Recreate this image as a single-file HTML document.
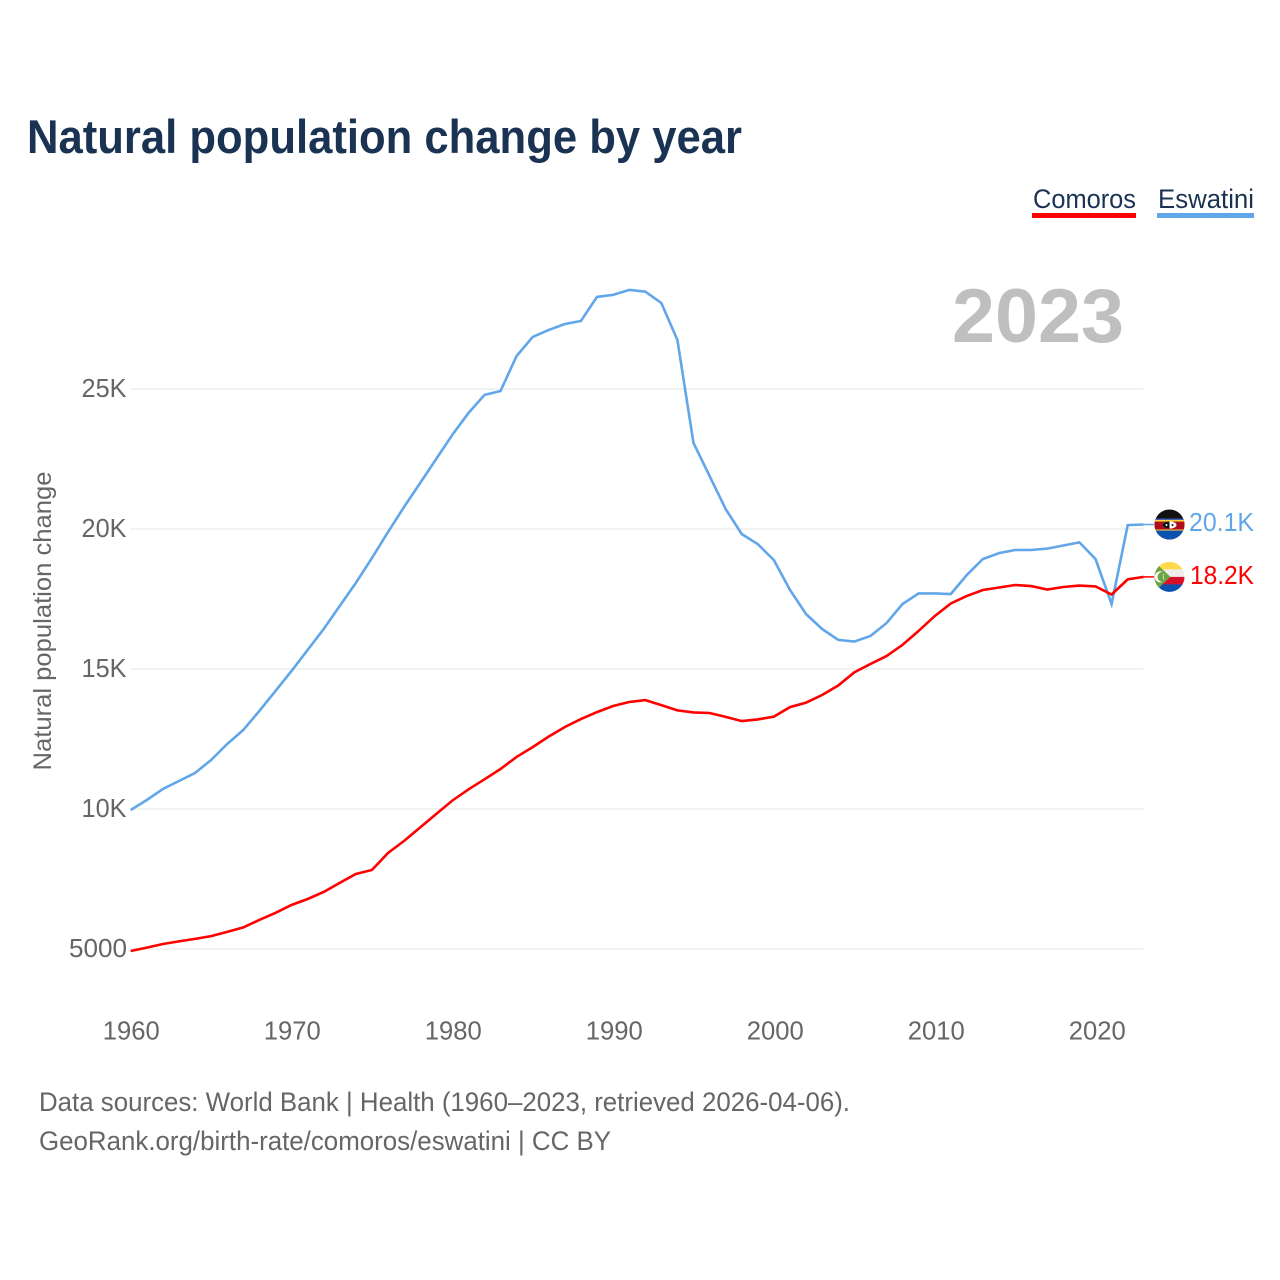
<!DOCTYPE html>
<html lang="en">
<head>
<meta charset="utf-8">
<title>Natural population change by year</title>
<style>
html,body{margin:0;padding:0;background:#fff;}
svg{display:block;font-family:"Liberation Sans",sans-serif;}
</style>
</head>
<body>
<svg id="chart" xmlns="http://www.w3.org/2000/svg" width="1280" height="1280" viewBox="0 0 1280 1280">
  <defs>
    <clipPath id="flag-clip-a"><circle cx="0" cy="0" r="15"/></clipPath>
  </defs>
  <rect x="0" y="0" width="1280" height="1280" fill="#fff"/>
  <text x="27" y="153" font-size="47" font-weight="700" fill="#1a3353" textLength="715" lengthAdjust="spacingAndGlyphs">Natural population change by year</text>

  <g>
    <text x="1033" y="208" font-size="27" fill="#1a3353" textLength="103" lengthAdjust="spacingAndGlyphs">Comoros</text>
    <rect x="1032" y="213" width="104" height="5" fill="#ff0000"/>
  </g>
  <g>
    <text x="1158" y="208" font-size="27" fill="#1a3353" textLength="96" lengthAdjust="spacingAndGlyphs">Eswatini</text>
    <rect x="1157" y="213" width="97" height="5" fill="#62a6ea"/>
  </g>

  <text x="952" y="342" font-size="76" font-weight="700" fill="#bfbfbf" textLength="172" lengthAdjust="spacingAndGlyphs">2023</text>

  <text transform="translate(51,621) rotate(-90)" text-anchor="middle" font-size="25" fill="#666" textLength="299" lengthAdjust="spacingAndGlyphs">Natural population change</text>

  <g id="grid"></g>
  <g id="yticks"></g>
  <g id="xticks"></g>
  <g id="series"></g>

  <g id="flag-eswatini">
    <g clip-path="url(#flag-clip-a)">
      <rect x="-15" y="-15" width="30" height="30" fill="#111"/>
      <rect x="-15" y="-6" width="30" height="3" fill="#3f5fb0"/>
      <rect x="-15" y="-4.5" width="30" height="2" fill="#ffd83d"/>
      <rect x="-15" y="-3" width="30" height="9" fill="#b10c1c"/>
      <rect x="-15" y="5" width="30" height="2.5" fill="#ffd83d"/>
      <rect x="-15" y="6" width="30" height="9" fill="#0b52b0"/>
      <ellipse cx="0" cy="0.5" rx="7" ry="3.6" fill="#fff"/>
      <path d="M-7 .5 A7 3.6 0 0 1 0 -3.1 V4.1 A7 3.6 0 0 1 -7 .5Z" fill="#111"/>
      <circle cx="-3" cy="0.5" r="1" fill="#fff"/>
      <circle cx="3" cy="0.5" r="1" fill="#111"/>
    </g>
  </g>
  <g id="flag-comoros">
    <g clip-path="url(#flag-clip-a)">
      <rect x="-15" y="-15" width="30" height="8" fill="#ffd94a"/>
      <rect x="-15" y="-7.5" width="30" height="8" fill="#eeeeee"/>
      <rect x="-15" y="0" width="30" height="8" fill="#d8102c"/>
      <rect x="-15" y="7.5" width="30" height="8" fill="#0b52b0"/>
      <path d="M-15 -15 L1 0 L-15 15Z" fill="#6da544"/>
      <path d="M-7 -5 A5.5 5.5 0 1 0 -7 5 A4.5 4.5 0 1 1 -7 -5Z" fill="#fff"/>
      <circle cx="-6" cy="-2" r=".6" fill="#fff"/><circle cx="-6" cy="0" r=".6" fill="#fff"/><circle cx="-6" cy="2" r=".6" fill="#fff"/>
    </g>
  </g>
  <text id="value-eswatini" x="1189" y="531" font-size="26" fill="#62a6ea" textLength="65" lengthAdjust="spacingAndGlyphs">20.1K</text>
  <text id="value-comoros" x="1190" y="584" font-size="26" fill="#ff0000" textLength="64" lengthAdjust="spacingAndGlyphs">18.2K</text>

  <text x="39" y="1111" font-size="27" fill="#666" textLength="811" lengthAdjust="spacingAndGlyphs">Data sources: World Bank | Health (1960–2023, retrieved 2026-04-06).</text>
  <a>
    <text x="39" y="1150" font-size="27" fill="#666" textLength="572" lengthAdjust="spacingAndGlyphs">GeoRank.org/birth-rate/comoros/eswatini | CC BY</text>
  </a>
</svg>
<script>
const startYear = 1960;
const eswatiniValues = [9964,10320,10714,11000,11286,11750,12320,12820,13500,14210,14930,15680,16430,17250,18070,18960,19890,20790,21640,22500,23360,24140,24790,24930,26180,26860,27110,27320,27430,28290,28360,28540,28480,28070,26750,23070,21890,20710,19820,19460,18890,17820,16960,16430,16040,15980,16180,16640,17320,17700,17700,17680,18360,18930,19140,19250,19250,19300,19410,19520,18930,17320,20140,20160];
const comorosValues = [4930,5050,5180,5270,5360,5460,5610,5770,6040,6290,6570,6786,7036,7360,7680,7820,8430,8860,9340,9820,10300,10700,11060,11430,11860,12210,12590,12930,13210,13460,13680,13820,13890,13710,13520,13450,13430,13290,13140,13200,13300,13640,13800,14070,14410,14880,15180,15460,15860,16360,16890,17340,17610,17820,17910,18000,17960,17840,17930,17980,17950,17660,18200,18290];
const yTickValues = [5000,10000,15000,20000,25000];
const yTickLabels = ["5000","10K","15K","20K","25K"];
const xTickYears = [1960,1970,1980,1990,2000,2010,2020];

const NS = "http://www.w3.org/2000/svg";
function xScale(year){ return 130.7 + (year - 1960) * 16.08; }
function xLabelScale(year){ return 131.3 + (year - 1960) * 16.1; }
function yScale(value){ return 949 - (value - 5000) * 0.028; }
function make(tag, parent){ const el = document.createElementNS(NS, tag); parent.appendChild(el); return el; }

const gridGroup = document.getElementById("grid");
const yGroup = document.getElementById("yticks");
const xGroup = document.getElementById("xticks");
const seriesGroup = document.getElementById("series");
const lastYear = startYear + eswatiniValues.length - 1;

yTickValues.forEach(function(v, i){
  const line = make("line", gridGroup);
  
  
  line.setAttribute("x1", xScale(1960));
  line.setAttribute("x2", xScale(lastYear));
  line.setAttribute("y1", yScale(v));
  line.setAttribute("y2", yScale(v));
  line.setAttribute("stroke", "#ededed");
  line.setAttribute("stroke-width", "1.5");
  const label = yTickLabels[i];
  const t = make("text", yGroup);
  
  
  t.setAttribute("x", label.length === 4 ? 69 : 81.5);
  t.setAttribute("y", yScale(v) + 8);
  t.setAttribute("font-size", "26");
  t.setAttribute("fill", "#666");
  t.setAttribute("textLength", label.length === 4 ? 58 : 45);
  t.setAttribute("lengthAdjust", "spacingAndGlyphs");
  t.textContent = label;
});

xTickYears.forEach(function(year){
  const t = make("text", xGroup);
  
  
  t.setAttribute("x", xLabelScale(year));
  t.setAttribute("y", 1039.5);
  t.setAttribute("text-anchor", "middle");
  t.setAttribute("font-size", "26");
  t.setAttribute("fill", "#666");
  t.setAttribute("textLength", 57);
  t.setAttribute("lengthAdjust", "spacingAndGlyphs");
  t.textContent = String(year);
});

function drawSeries(values, color, name){
  const d = values.map(function(v, i){
    return (i ? "L" : "M") + xScale(startYear + i).toFixed(1) + " " + yScale(v).toFixed(1);
  }).join(" ");
  const endX = xScale(lastYear).toFixed(1);
  const endY = yScale(values[values.length - 1]).toFixed(1);
  const c = make("line", seriesGroup);
  
  
  c.setAttribute("x1", endX);
  c.setAttribute("x2", 1154);
  c.setAttribute("y1", endY);
  c.setAttribute("y2", endY);
  c.setAttribute("stroke", color);
  c.setAttribute("stroke-width", "1.5");
  const p = make("path", seriesGroup);
  
  
  p.setAttribute("d", d);
  p.setAttribute("fill", "none");
  p.setAttribute("stroke", color);
  p.setAttribute("stroke-width", "2.6");
  p.setAttribute("stroke-linejoin", "miter");
  p.setAttribute("stroke-miterlimit", "10");
}
drawSeries(eswatiniValues, "#62a6ea", "line-eswatini");
drawSeries(comorosValues, "#ff0000", "line-comoros");

document.getElementById("flag-eswatini").setAttribute("transform", "translate(1169.5," + yScale(eswatiniValues[eswatiniValues.length - 1]) + ")");
document.getElementById("flag-comoros").setAttribute("transform", "translate(1169.5," + yScale(comorosValues[comorosValues.length - 1]) + ")");
</script>
</body>
</html>
